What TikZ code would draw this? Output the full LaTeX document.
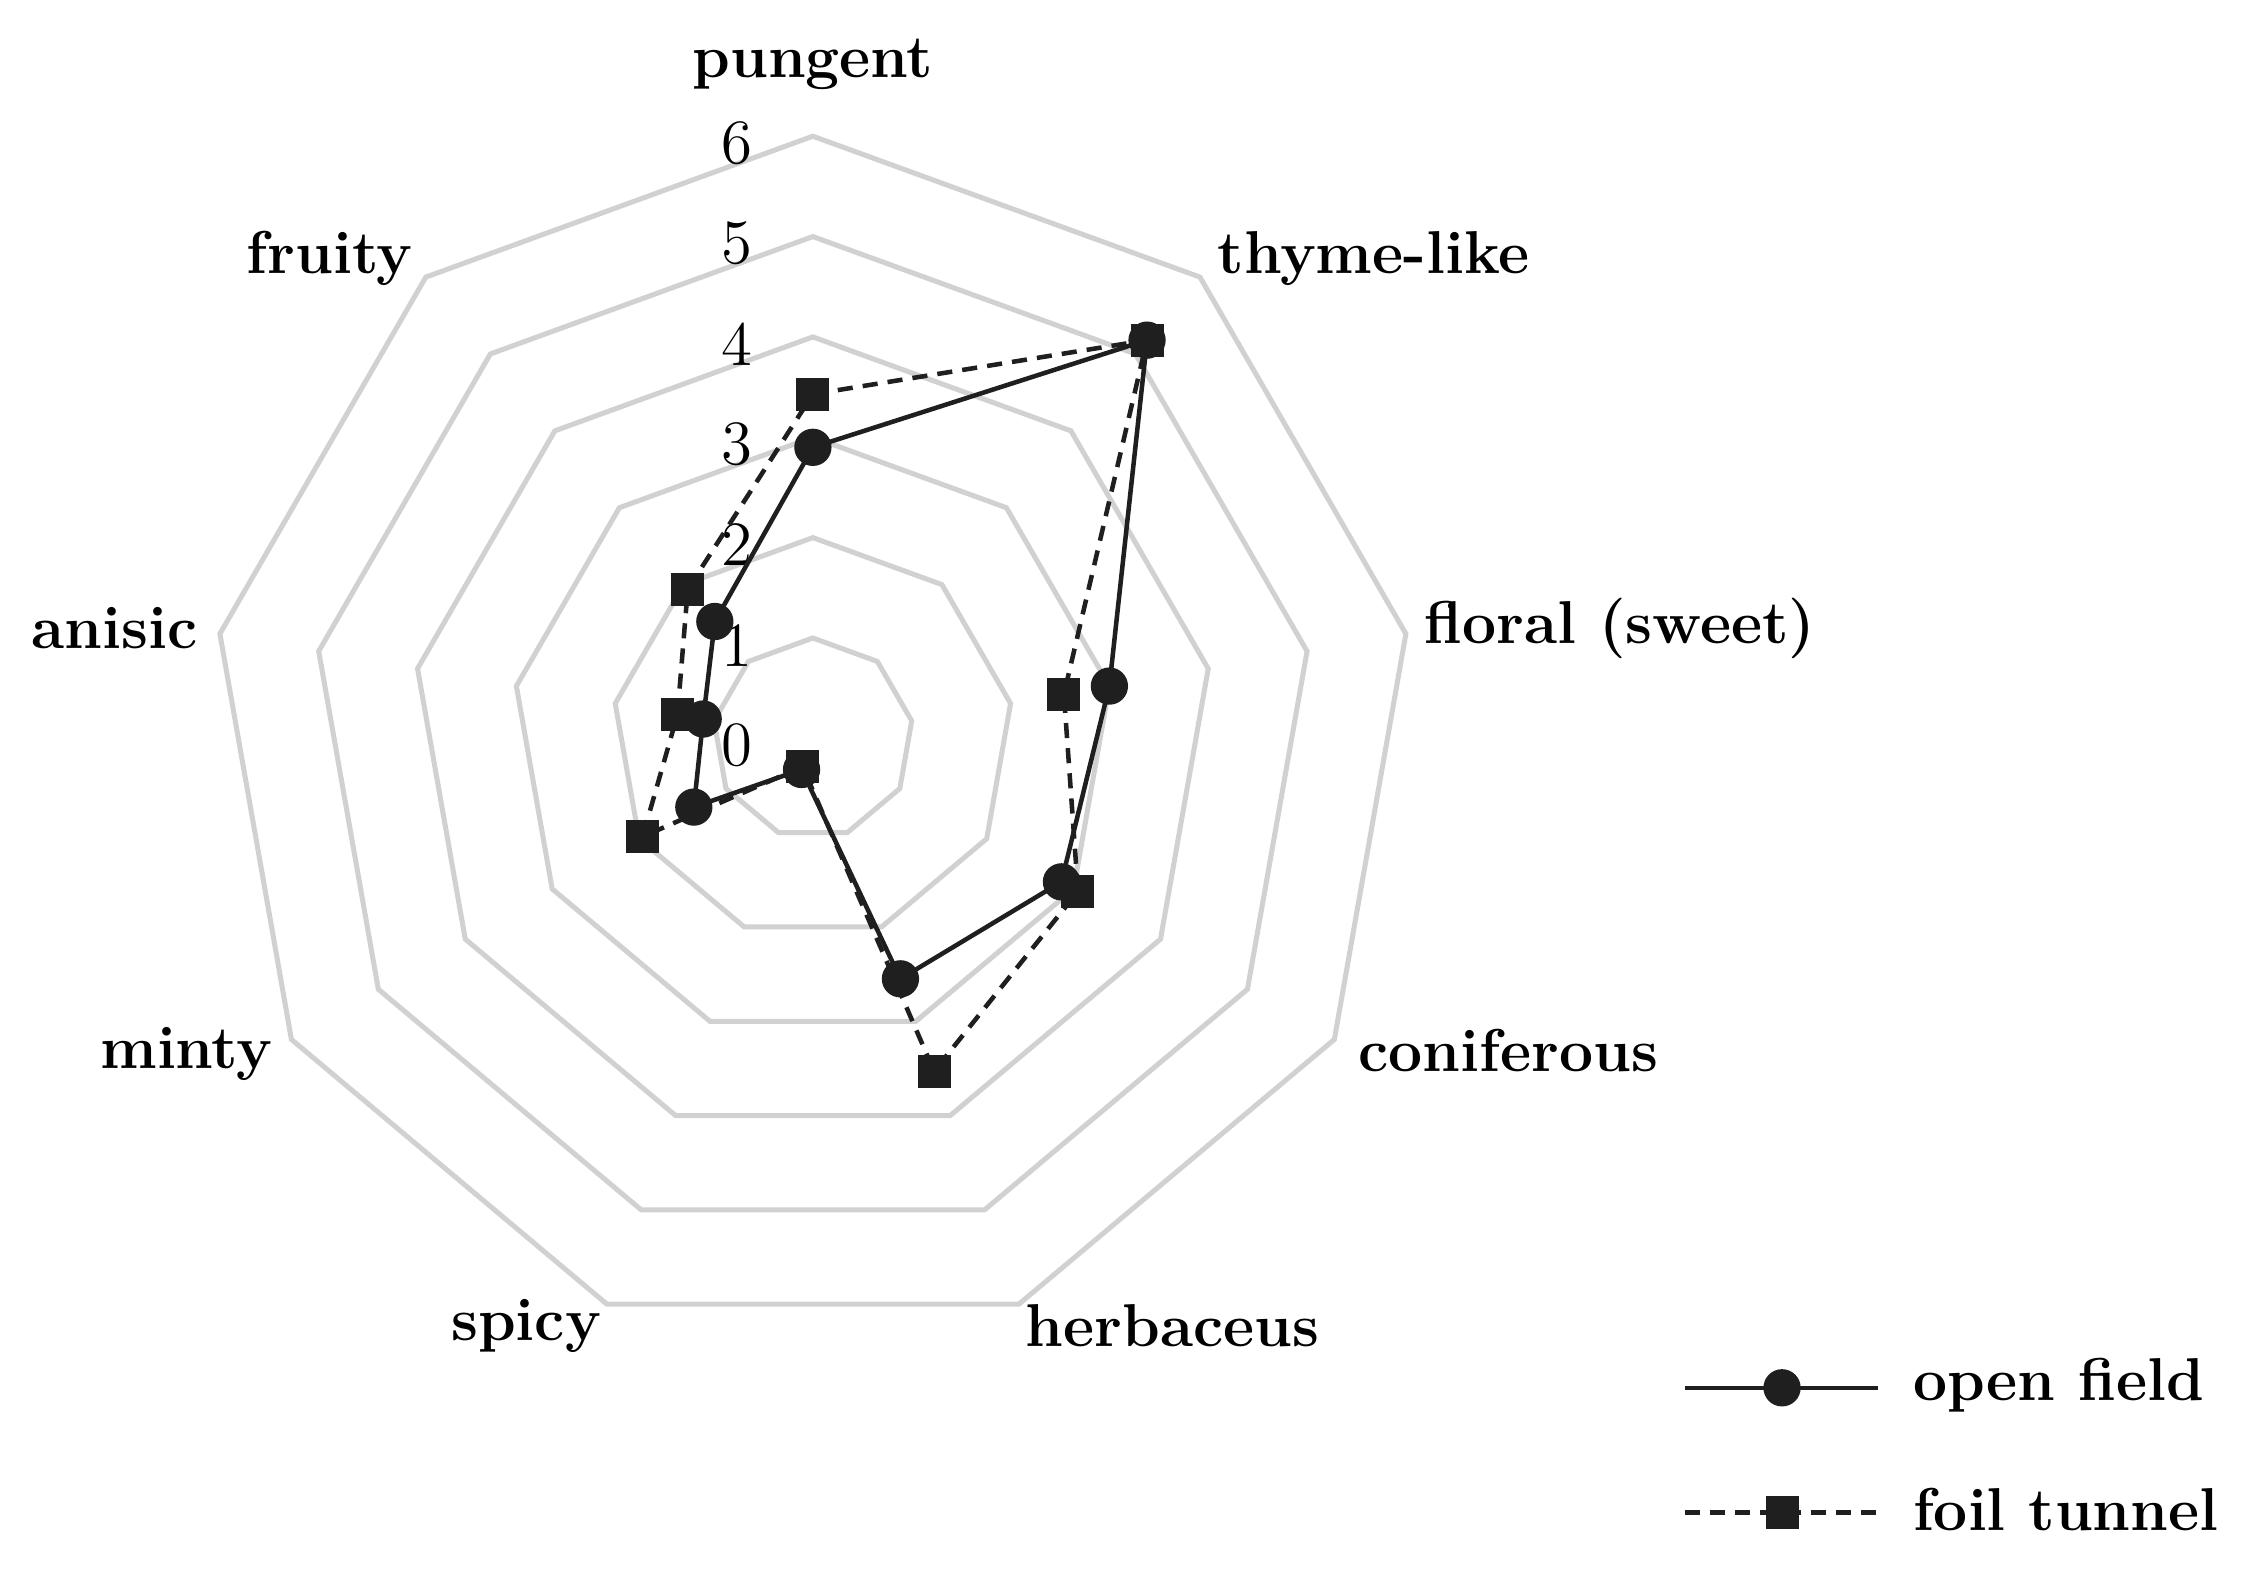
\documentclass[tikz,border=0pt]{standalone}
\usetikzlibrary{calc}
\begin{document}
\begin{tikzpicture}[x=0.01cm,y=-0.01cm,
  grid/.style={draw=black!18,line width=1pt},
  lab/.style={font=\fontsize{12}{14}\selectfont\bfseries},
  num/.style={font=\fontsize{12.5}{14}\selectfont},
  ofl/.style={draw=black!88,line width=0.9pt},
  ftl/.style={draw=black!88,line width=0.9pt,dash pattern=on 3pt off 2pt},
  dot/.style={circle,fill=black!88,inner sep=0pt,minimum size=0.26cm},
  sq/.style={rectangle,fill=black!88,inner sep=0pt,minimum size=0.23cm}]
\useasboundingbox (0,0) rectangle (1568,1105);
\coordinate (O) at (567,515);
\foreach \r in {1,...,6}{
  \draw[grid] ($(O)+(-90:\r*70)$) \foreach \k in {1,...,8}{ -- ($(O)+(40*\k-90:\r*70)$)} -- cycle;
}
\foreach \v/\yy in {0/520,1/450,2/380,3/310,4/240,5/170,6/100}
  \node[num] (n\v) at (514,\yy) {\v};
\node[lab] (l0) at (567,45) {pungent};
\node[lab] (l1) at (958,180) {thyme-like};
\node[lab] (l2) at (1130,438) {floral (sweet)};
\node[lab] (l3) at (1052,733) {coniferous};
\node[lab] (l4) at (818,925) {herbaceus};
\node[lab] (l5) at (367,925) {spicy};
\node[lab] (l6) at (130,735) {minty};
\node[lab] (l7) at (80,438) {anisic};
\node[lab] (l8) at (230,180) {fruity};
\def\A{2.9,5.18,3.0,2.86,2.55,0.33,1.37,1.11,1.52}
\def\B{3.43,5.18,2.54,3.05,3.53,0.3,1.96,1.37,1.94}
\foreach [count=\i from 0] \v in \A { \coordinate (a\i) at ($(O)+(40*\i-90:\v*70)$); }
\foreach [count=\i from 0] \v in \B { \coordinate (b\i) at ($(O)+(40*\i-90:\v*70)$); }
\draw[ftl] (b0)--(b1)--(b2)--(b3)--(b4)--(b5)--(b6)--(b7)--(b8)--cycle;
\draw[ofl] (a0)--(a1)--(a2)--(a3)--(a4)--(a5)--(a6)--(a7)--(a8)--cycle;
\foreach \i in {0,...,8}{ \node[sq] at (b\i) {}; }
\foreach \i in {0,...,8}{ \node[dot] at (a\i) {}; }
% legend
\coordinate (la) at (1175,968); \coordinate (lb) at (1310,968);
\draw[ofl] (la) -- (lb); \node[dot] at (1243,968) {};
\node[lab,anchor=west] (t1) at (1322,966) {open field};
\coordinate (lc) at (1175,1055); \coordinate (ld) at (1310,1055);
\draw[ftl] (lc) -- (ld); \node[sq] at (1243,1055) {};
\node[lab,anchor=west] (t2) at (1322,1053) {foil tunnel};
\end{tikzpicture}
\end{document}
